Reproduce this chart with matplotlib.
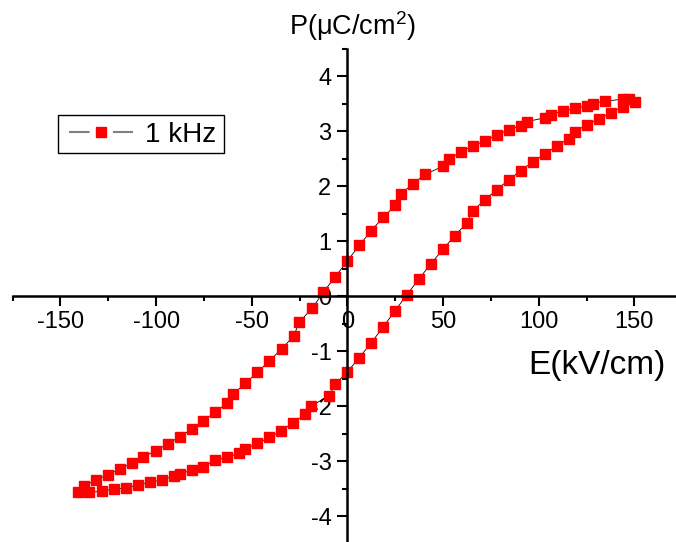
import numpy as np
import matplotlib
matplotlib.use("Agg")
import matplotlib.pyplot as plt
from matplotlib.lines import Line2D
from matplotlib.patches import Rectangle

plt.rcParams['font.family'] = ['Liberation Sans', 'DejaVu Sans']
plt.rcParams['mathtext.fontset'] = 'custom'
plt.rcParams['mathtext.rm'] = 'Liberation Sans'
plt.rcParams['axes.unicode_minus'] = False

# rama superior (E bajando desde +Emax)
E_sup = [150.2, 147.0, 143.9, 134.5, 128.2, 125.1, 118.8, 112.5, 106.3, 103.1,
         93.7, 90.6, 84.3, 78.2, 71.9, 65.6, 59.4, 53.1, 50.0, 40.6,
         34.3, 28.0, 25.0, 18.8, 12.5, 6.2, 0.0, -6.3, -12.6, -18.3,
         -25.1, -28.1, -34.3, -40.8, -47.1, -53.4, -59.6, -62.8, -69.1, -75.3,
         -81.4, -87.7, -93.9, -100.3, -106.6, -112.8, -119.0, -125.3, -131.6, -137.8,
         -140.7]
P_sup = [3.53, 3.59, 3.58, 3.54, 3.50, 3.46, 3.41, 3.36, 3.30, 3.24,
         3.17, 3.10, 3.02, 2.93, 2.82, 2.73, 2.62, 2.49, 2.36, 2.21,
         2.04, 1.86, 1.65, 1.43, 1.19, 0.92, 0.64, 0.35, 0.07, -0.22,
         -0.47, -0.73, -0.96, -1.18, -1.39, -1.59, -1.78, -1.95, -2.11, -2.27,
         -2.42, -2.56, -2.69, -2.81, -2.93, -3.04, -3.15, -3.25, -3.35, -3.45,
         -3.57]

# rama inferior (E subiendo desde -Emax)
E_inf = [-134.9, -128.4, -122.2, -115.9, -109.6, -103.3, -97.1, -90.8, -87.7, -81.4,
         -75.3, -69.1, -62.8, -56.5, -53.4, -47.1, -40.8, -34.6, -28.3, -22.0,
         -18.9, -9.5, -6.3, 0.0, 6.2, 12.5, 18.5, 24.9, 31.0, 37.4,
         43.7, 50.0, 56.2, 62.5, 65.6, 71.9, 78.0, 84.3, 90.6, 96.9,
         103.1, 109.4, 115.7, 118.8, 125.1, 131.4, 137.6, 143.9]
P_inf = [-3.57, -3.55, -3.51, -3.49, -3.44, -3.39, -3.34, -3.28, -3.23, -3.17,
         -3.10, -2.99, -2.93, -2.86, -2.78, -2.68, -2.57, -2.45, -2.30, -2.15,
         -2.00, -1.81, -1.60, -1.38, -1.12, -0.85, -0.57, -0.27, 0.02, 0.31,
         0.59, 0.85, 1.10, 1.33, 1.55, 1.75, 1.93, 2.11, 2.28, 2.44,
         2.58, 2.73, 2.86, 2.99, 3.11, 3.22, 3.33, 3.44]

E = np.array(E_sup + E_inf)
P = np.array(P_sup + P_inf)

fig = plt.figure(figsize=(6.76, 5.42), dpi=100)
ax = fig.add_axes([0.01865, -0.0028, 0.9905, 0.9133])

ax.plot(E, P, color="black", lw=0.6, marker="s", ms=7.5,
        mfc="red", mec="red", clip_on=False)

ax.set_xlim(-175, 175)
ax.set_ylim(-4.5, 4.5)

ax.spines['left'].set_position(('data', 0))
ax.spines['bottom'].set_position(('data', 0))
ax.spines['top'].set_visible(False)
ax.spines['right'].set_visible(False)
ax.spines['left'].set_linewidth(1.8)
ax.spines['bottom'].set_linewidth(1.8)

ax.set_xticks([-150, -100, -50, 0, 50, 100, 150])
ax.set_xticks(np.arange(-175, 176, 50), minor=True)
ax.set_yticks([-4, -3, -2, -1, 0, 1, 2, 3, 4])
ax.set_yticks(np.arange(-3.5, 4.6, 1.0), minor=True)

ax.tick_params(which='major', direction='out', length=7, width=1.5,
               labelsize=17)
ax.tick_params(which='minor', direction='out', length=3.5, width=1.5)
ax.tick_params(axis='x', which='major', pad=4)
ax.tick_params(axis='y', which='major', pad=4.5)

fig.text(666/676, 1-374/542, "E(kV/cm)", fontsize=24, ha="right", va="baseline")
fig.text(289/676, 1-35/542, r"P(μC/cm$^\mathregular{2}$)", fontsize=19.5,
         ha="left", va="baseline")

# leyenda: linea gris cortada alrededor del marcador
linea = Line2D([], [], color="gray", lw=1.5, ls=(0, (9.9, 11.2)))
marca = Line2D([], [], ls="none", marker="s", ms=7.5, mfc="red", mec="red")
leg = ax.legend([(linea, marca)], ["1 kHz"], loc="center left",
                bbox_to_anchor=(69/676, 1-135/542), bbox_transform=fig.transFigure,
                borderaxespad=0, borderpad=0, fontsize=20, handlelength=2.3,
                handletextpad=0.45, frameon=False)
fig.patches.append(Rectangle((58/676, 1-153/542), 166/676, 38/542,
                             transform=fig.transFigure, fill=False,
                             edgecolor="black", lw=1.0))

plt.savefig("out.png", dpi=100)
